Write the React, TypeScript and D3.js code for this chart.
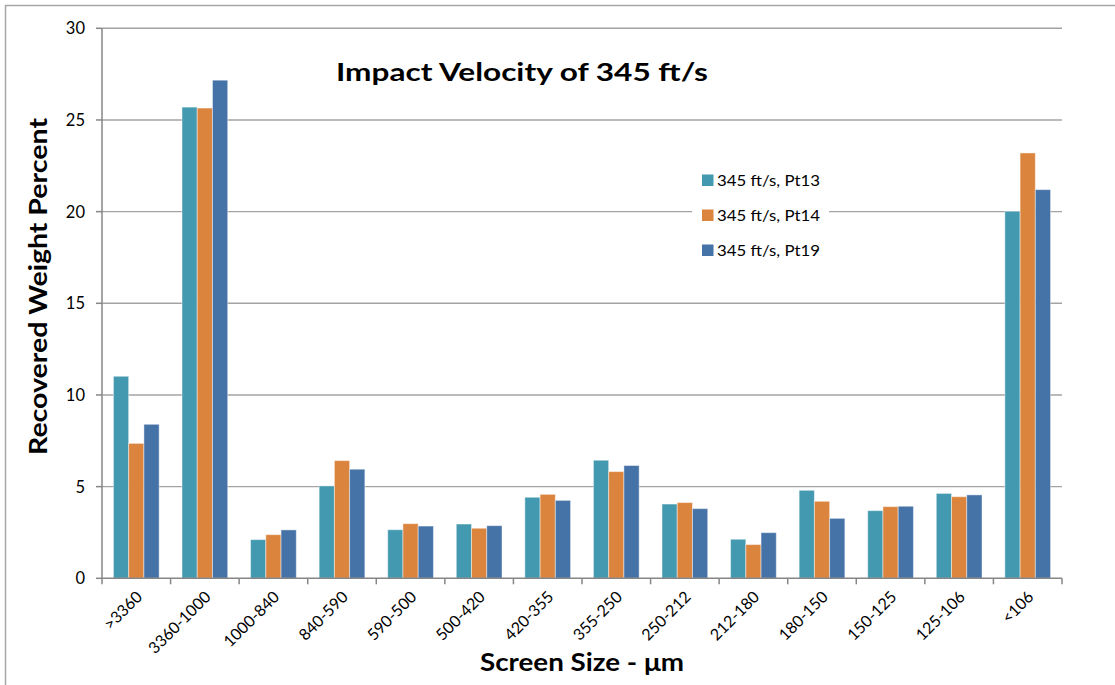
import React from "react";
import * as d3 from "d3";

const categories = [">3360", "3360-1000", "1000-840", "840-590", "590-500", "500-420", "420-355", "355-250", "250-212", "212-180", "180-150", "150-125", "125-106", "<106"];
const seriesNames = ["345 ft/s, Pt13", "345 ft/s, Pt14", "345 ft/s, Pt19"];
const pt13 = [11.02, 25.7, 2.11, 5.04, 2.65, 2.96, 4.42, 6.44, 4.05, 2.13, 4.8, 3.69, 4.63, 20.02];
const pt14 = [7.36, 25.65, 2.38, 6.42, 2.98, 2.73, 4.58, 5.82, 4.13, 1.84, 4.2, 3.91, 4.45, 23.2];
const pt19 = [8.4, 27.17, 2.64, 5.95, 2.85, 2.87, 4.25, 6.15, 3.8, 2.49, 3.27, 3.93, 4.55, 21.2];
const yTicks = [0, 5, 10, 15, 20, 25, 30];
const colors = ["#4399B0", "#DB843D", "#4572A7"];

const W = 1115, H = 685;
const left = 102, right = 1062, top = 28.3, bottom = 578.3;
const FONT = "Lato, 'Open Sans', sans-serif";

export default function App() {
  const x = d3.scaleBand<string>().domain(categories).range([left, right]).padding(0);
  const xs = d3.scaleBand<number>().domain([0, 1, 2]).range([0, x.bandwidth()]).paddingInner(0).paddingOuter(0.75);
  const y = d3.scaleLinear().domain([0, 30]).range([bottom, top]);
  const series = [pt13, pt14, pt19];
  const boundaries = d3.range(categories.length + 1).map((i) => left + i * x.step());

  return (
    <svg width={W} height={H} style={{ position: "absolute", left: 0, top: 0, background: "#fff" }} fontFamily={FONT}>
      <rect x={0} y={0} width={W} height={H} fill="#fff" />
      <rect x={5.5} y={5.5} width={W + 20} height={H + 20} fill="none" stroke="#A6A6A6" strokeWidth={1.5} />
      {/* gridlines */}
      {yTicks.filter((t) => t > 0).map((t) => (
        <line key={t} x1={left} x2={right} y1={y(t)} y2={y(t)} stroke="#A3A3A3" strokeWidth={1.4} />
      ))}
      {/* bars */}
      {series.map((vals, si) =>
        vals.map((v, ci) => (
          <rect
            key={`${si}-${ci}`}
            x={(x(categories[ci]) as number) + (xs(si) as number)}
            y={y(v)}
            width={xs.bandwidth()}
            height={y(0) - y(v)}
            fill={colors[si]}
            stroke="#ffffff"
            strokeOpacity={0.45}
            strokeWidth={1}
          />
        ))
      )}
      {/* y axis */}
      <line x1={left} x2={left} y1={top} y2={bottom} stroke="#868686" strokeWidth={1.5} />
      {yTicks.map((t) => (
        <g key={t}>
          <line x1={left - 6} x2={left} y1={y(t)} y2={y(t)} stroke="#868686" strokeWidth={1.5} />
          <text x={85} y={y(t)} dy="0.36em" textAnchor="end" fontSize={16.5} fill="#000">{t}</text>
        </g>
      ))}
      {/* x axis */}
      <line x1={left} x2={right} y1={bottom} y2={bottom} stroke="#868686" strokeWidth={1.5} />
      {boundaries.map((b, i) => (
        <line key={i} x1={b} x2={b} y1={bottom} y2={bottom + 6} stroke="#868686" strokeWidth={1.5} />
      ))}
      {categories.map((c) => {
        const cx = (x(c) as number) + x.bandwidth() / 2 + 3;
        const cy = 594;
        return (
          <text key={c} x={cx} y={cy} dy="0.35em" textAnchor="end" fontSize={16} fill="#000" transform={`rotate(-45 ${cx} ${cy})`}>{c}</text>
        );
      })}
      {/* title */}
      <text x={522} y={81} textAnchor="middle" fontSize={24} fontWeight="bold" textLength={372} lengthAdjust="spacingAndGlyphs">Impact Velocity of 345 ft/s</text>
      {/* axis titles */}
      <text x={582} y={671} textAnchor="middle" fontSize={24} fontWeight="bold" textLength={204} lengthAdjust="spacingAndGlyphs">Screen Size - μm</text>
      <text x={0} y={0} textAnchor="middle" fontSize={24} fontWeight="bold" textLength={337} lengthAdjust="spacingAndGlyphs" transform={`translate(47 ${(118 + 455) / 2}) rotate(-90)`}>Recovered Weight Percent</text>
      {/* legend */}
      <rect x={692} y={162} width={137} height={104} fill="#fff" />
      {seriesNames.map((n, i) => (
        <g key={n}>
          <rect x={702} y={174.5 + i * 35} width={11.5} height={11.5} fill={colors[i]} />
          <text x={717} y={180.2 + i * 35} dy="0.36em" fontSize={16} fill="#000" textLength={103} lengthAdjust="spacingAndGlyphs">{n}</text>
        </g>
      ))}
    </svg>
  );
}
